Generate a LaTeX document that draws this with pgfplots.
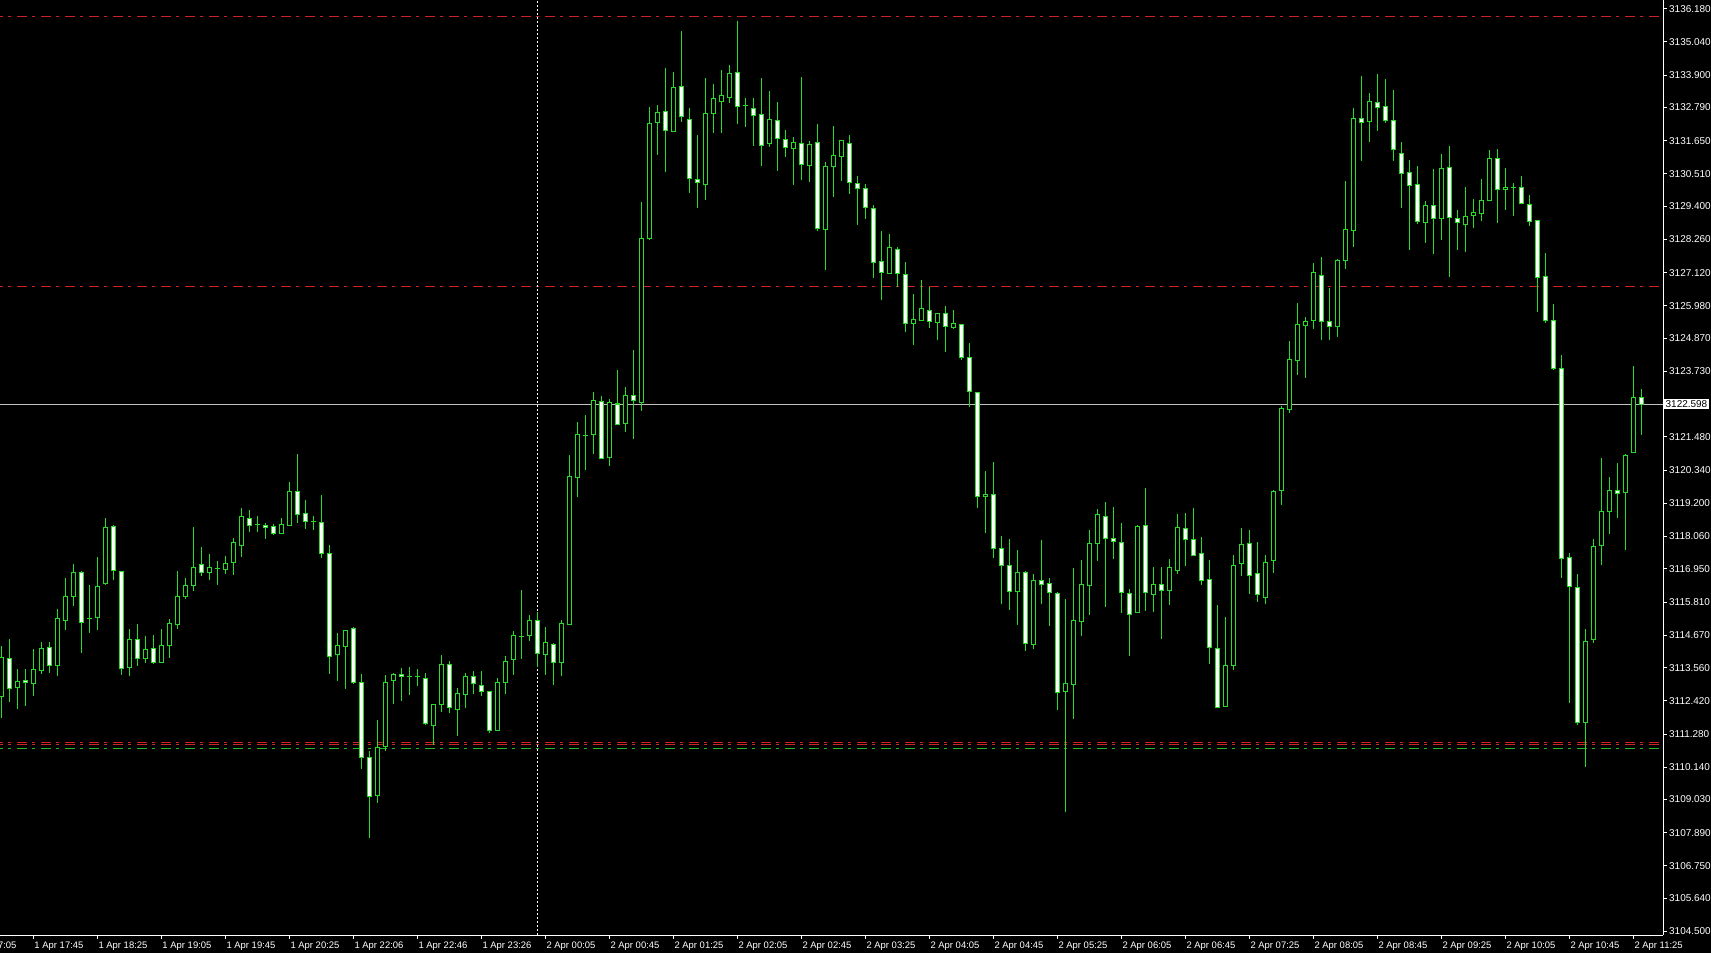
\documentclass[border=0pt]{standalone}
\usepackage{fontspec}
\setmainfont{Liberation Sans}
\usepackage{pgfplots}
\pgfplotsset{compat=1.18}
\usepackage{pgfplotstable}
\definecolor{cgreen}{RGB}{40,220,40}
\definecolor{lred}{RGB}{205,35,35}
\definecolor{lgreen}{RGB}{40,185,40}
\definecolor{bidgray}{RGB}{192,192,192}
\pgfplotstableread{
i o h l c
0 3112.57 3114.30 3111.84 3113.91
1 3113.88 3114.54 3112.38 3112.85
2 3112.88 3113.51 3112.13 3113.09
3 3113.12 3113.51 3112.23 3113.05
4 3113.02 3114.20 3112.57 3113.50
5 3113.47 3114.44 3113.34 3114.22
6 3114.26 3114.44 3113.39 3113.64
7 3113.64 3115.56 3113.28 3115.25
8 3115.18 3116.64 3114.86 3116.01
9 3116.01 3117.12 3115.69 3116.81
10 3116.83 3116.88 3114.07 3115.11
11 3115.23 3116.40 3114.76 3115.23
12 3115.27 3117.36 3114.86 3116.35
13 3116.44 3118.70 3116.41 3118.38
14 3118.41 3118.44 3116.58 3116.90
15 3116.87 3116.87 3113.32 3113.52
16 3113.57 3114.89 3113.28 3114.51
17 3114.53 3115.06 3113.63 3113.88
18 3113.87 3114.63 3113.73 3114.19
19 3114.22 3114.68 3113.70 3113.73
20 3113.73 3114.89 3113.73 3114.32
21 3114.31 3115.22 3113.90 3115.08
22 3115.03 3116.88 3114.90 3116.01
23 3116.00 3116.62 3115.93 3116.38
24 3116.38 3118.39 3116.20 3117.00
25 3117.11 3117.70 3116.72 3116.83
26 3116.82 3117.46 3116.58 3117.00
27 3116.95 3117.22 3116.41 3116.95
28 3116.92 3117.39 3116.79 3117.14
29 3117.16 3118.01 3116.75 3117.86
30 3117.75 3119.04 3117.37 3118.75
31 3118.68 3118.97 3118.23 3118.43
32 3118.47 3118.76 3118.23 3118.47
33 3118.44 3118.51 3117.99 3118.38
34 3118.41 3118.48 3118.11 3118.16
35 3118.16 3118.71 3118.16 3118.48
36 3118.43 3119.93 3118.43 3119.61
37 3119.61 3120.89 3118.54 3118.81
38 3118.86 3119.31 3118.33 3118.58
39 3118.57 3118.76 3118.28 3118.57
40 3118.55 3119.49 3117.33 3117.47
41 3117.48 3117.77 3113.35 3113.94
42 3114.00 3114.75 3113.11 3114.32
43 3114.29 3114.82 3112.84 3114.82
44 3114.91 3114.94 3113.01 3113.04
45 3113.05 3113.33 3110.07 3110.48
46 3110.48 3110.70 3107.72 3109.13
47 3109.16 3111.75 3108.92 3110.82
48 3110.86 3113.31 3110.69 3113.05
49 3113.11 3113.39 3112.32 3113.33
50 3113.33 3113.55 3112.43 3113.25
51 3113.24 3113.58 3112.63 3113.24
52 3113.25 3113.52 3112.92 3113.25
53 3113.19 3113.38 3111.60 3111.65
54 3111.57 3112.30 3110.91 3112.30
55 3112.29 3113.99 3112.05 3113.66
56 3113.66 3113.78 3111.99 3112.20
57 3112.13 3112.85 3111.21 3112.66
58 3112.64 3113.36 3112.19 3113.24
59 3113.25 3113.43 3112.64 3113.03
60 3112.96 3113.45 3112.57 3112.75
61 3112.75 3112.75 3111.33 3111.40
62 3111.40 3113.22 3111.40 3113.04
63 3113.04 3113.97 3112.64 3113.76
64 3113.83 3114.80 3113.32 3114.67
65 3114.64 3116.21 3113.87 3114.64
66 3114.66 3115.36 3114.48 3115.18
67 3115.18 3115.48 3113.57 3114.06
68 3114.01 3114.97 3113.32 3114.43
69 3114.36 3114.41 3112.97 3113.75
70 3113.75 3115.20 3113.27 3115.08
71 3115.04 3120.87 3115.01 3120.12
72 3120.09 3121.98 3119.40 3121.56
73 3121.52 3122.24 3120.33 3121.52
74 3121.56 3123.01 3120.91 3122.73
75 3122.68 3122.87 3120.75 3120.75
76 3120.77 3122.77 3120.47 3122.66
77 3122.61 3123.76 3121.89 3121.89
78 3121.94 3123.20 3121.66 3122.91
79 3122.91 3124.45 3121.40 3122.73
80 3122.66 3129.53 3122.38 3128.30
81 3128.30 3132.82 3128.23 3132.24
82 3132.28 3132.89 3131.17 3132.61
83 3132.65 3134.13 3130.57 3132.00
84 3131.96 3134.01 3131.96 3133.48
85 3133.52 3135.41 3132.30 3132.47
86 3132.38 3132.76 3129.86 3130.35
87 3130.31 3131.84 3129.35 3130.22
88 3130.14 3133.79 3129.62 3132.59
89 3132.58 3133.60 3131.92 3133.10
90 3132.99 3134.08 3131.92 3133.21
91 3133.13 3134.25 3132.95 3133.96
92 3134.00 3135.76 3132.23 3132.82
93 3132.86 3133.11 3132.13 3132.86
94 3132.75 3133.11 3131.48 3132.51
95 3132.55 3133.80 3130.79 3131.49
96 3131.55 3133.35 3131.44 3132.38
97 3132.35 3132.98 3130.62 3131.72
98 3131.70 3132.02 3131.10 3131.42
99 3131.38 3131.78 3130.14 3131.59
100 3131.56 3133.84 3130.31 3130.83
101 3130.79 3131.64 3130.24 3131.52
102 3131.59 3132.22 3128.56 3128.62
103 3128.61 3130.91 3127.22 3130.77
104 3130.76 3132.15 3129.73 3131.15
105 3131.10 3131.66 3130.28 3131.66
106 3131.56 3131.84 3129.83 3130.21
107 3130.19 3130.44 3128.77 3130.01
108 3130.01 3130.16 3128.97 3129.36
109 3129.33 3129.44 3126.95 3127.47
110 3127.49 3128.54 3126.17 3127.14
111 3127.09 3128.45 3127.07 3127.97
112 3127.91 3128.00 3126.64 3127.10
113 3127.04 3127.49 3125.09 3125.39
114 3125.39 3126.37 3124.63 3125.52
115 3125.48 3126.85 3125.48 3125.88
116 3125.83 3126.64 3125.21 3125.44
117 3125.42 3125.73 3124.79 3125.73
118 3125.73 3125.98 3124.38 3125.27
119 3125.23 3125.85 3125.17 3125.37
120 3125.35 3125.35 3124.13 3124.21
121 3124.22 3124.72 3122.52 3123.05
122 3123.02 3123.02 3119.04 3119.44
123 3119.44 3120.31 3118.18 3119.50
124 3119.50 3120.62 3117.33 3117.64
125 3117.64 3118.07 3115.73 3117.05
126 3117.05 3117.96 3115.54 3116.18
127 3116.16 3117.59 3115.02 3116.81
128 3116.81 3116.89 3114.13 3114.40
129 3114.36 3116.79 3114.19 3116.54
130 3116.54 3117.93 3115.73 3116.43
131 3116.46 3116.62 3114.98 3116.13
132 3116.09 3116.17 3112.12 3112.72
133 3112.74 3115.92 3108.59 3113.03
134 3112.98 3116.97 3111.78 3115.19
135 3115.15 3117.24 3114.64 3116.41
136 3116.37 3118.30 3115.37 3117.82
137 3117.82 3119.01 3117.22 3118.82
138 3118.74 3119.23 3115.65 3118.00
139 3118.00 3119.06 3117.30 3117.90
140 3117.86 3118.53 3115.45 3116.15
141 3116.11 3116.26 3113.97 3115.39
142 3115.45 3118.45 3115.42 3118.41
143 3118.43 3119.72 3115.52 3116.15
144 3116.08 3117.01 3115.48 3116.42
145 3116.42 3117.01 3114.55 3116.19
146 3116.20 3117.29 3115.72 3117.00
147 3116.89 3118.83 3116.79 3118.38
148 3118.33 3118.87 3117.06 3117.96
149 3117.96 3119.03 3117.42 3117.42
150 3117.47 3118.04 3116.39 3116.56
151 3116.58 3117.26 3113.70 3114.26
152 3114.22 3115.71 3112.20 3112.20
153 3112.22 3115.29 3112.20 3113.64
154 3113.63 3117.43 3113.47 3117.07
155 3117.14 3118.34 3116.72 3117.79
156 3117.83 3118.27 3116.08 3116.73
157 3116.80 3117.87 3115.82 3116.08
158 3115.97 3117.43 3115.73 3117.17
159 3117.24 3119.66 3116.82 3119.62
160 3119.65 3122.54 3119.15 3122.46
161 3122.43 3124.77 3122.31 3124.14
162 3124.11 3126.09 3123.62 3125.35
163 3125.31 3125.60 3123.51 3125.45
164 3125.47 3127.44 3125.20 3127.13
165 3127.03 3127.65 3124.81 3125.45
166 3125.44 3126.59 3124.81 3125.27
167 3125.27 3127.59 3124.92 3127.55
168 3127.53 3130.27 3127.26 3128.61
169 3128.56 3132.76 3128.01 3132.42
170 3132.41 3133.87 3130.96 3132.27
171 3132.30 3133.29 3131.62 3133.00
172 3132.97 3133.94 3131.99 3132.79
173 3132.83 3133.77 3132.25 3132.34
174 3132.35 3133.39 3130.96 3131.35
175 3131.22 3131.59 3129.35 3130.53
176 3130.56 3130.99 3127.91 3130.11
177 3130.15 3130.78 3128.80 3128.87
178 3128.84 3129.58 3128.15 3129.44
179 3129.44 3130.68 3127.77 3128.97
180 3128.97 3131.19 3128.25 3130.70
181 3130.73 3131.46 3126.98 3129.02
182 3128.98 3129.27 3127.91 3128.85
183 3128.78 3130.06 3127.84 3129.05
184 3129.08 3129.64 3128.66 3129.17
185 3129.14 3130.32 3128.89 3129.60
186 3129.59 3131.33 3129.59 3131.04
187 3131.03 3131.36 3128.84 3129.98
188 3129.98 3130.71 3129.28 3130.05
189 3130.05 3130.19 3129.08 3130.05
190 3130.05 3130.44 3129.50 3129.50
191 3129.46 3129.79 3128.71 3128.89
192 3128.92 3128.92 3125.76 3126.96
193 3127.00 3127.80 3125.38 3125.47
194 3125.49 3126.05 3123.77 3123.83
195 3123.82 3124.28 3116.62 3117.32
196 3117.35 3117.50 3112.35 3116.35
197 3116.31 3116.77 3111.59 3111.68
198 3111.68 3114.90 3110.15 3114.47
199 3114.51 3117.97 3114.40 3117.72
200 3117.75 3120.74 3117.07 3118.92
201 3118.91 3120.10 3118.16 3119.65
202 3119.65 3120.57 3118.70 3119.54
203 3119.57 3120.91 3117.61 3120.84
204 3120.94 3123.93 3120.94 3122.82
205 3122.82 3123.12 3121.55 3122.60
}\candles
\begin{document}
\begin{tikzpicture}
\fill[black] (0,0) rectangle (1711bp,953bp);
\useasboundingbox (0,0) rectangle (1711bp,953bp);
\begin{axis}[
  at={(0,18bp)}, anchor=south west,
  scale only axis, width=1663bp, height=935bp,
  xmin=-0.1625, xmax=207.7125, ymin=3104.38, ymax=3136.48,
  enlargelimits=false, clip=true,
  axis x line*=bottom, axis y line*=right,
  axis line style={white, line width=1bp},
  tick style={white, line width=1bp},
  major tick length=4bp, tick align=outside,
  xtick={4,12,...,204},
  xticklabels={1 Apr 17:45,1 Apr 18:25,1 Apr 19:05,1 Apr 19:45,1 Apr 20:25,1 Apr 22:06,1 Apr 22:46,1 Apr 23:26,2 Apr 00:05,2 Apr 00:45,2 Apr 01:25,2 Apr 02:05,2 Apr 02:45,2 Apr 03:25,2 Apr 04:05,2 Apr 04:45,2 Apr 05:25,2 Apr 06:05,2 Apr 06:45,2 Apr 07:25,2 Apr 08:05,2 Apr 08:45,2 Apr 09:25,2 Apr 10:05,2 Apr 10:45,2 Apr 11:25},
  xticklabel style={anchor=north west, inner sep=0pt, xshift=1bp, yshift=-3bp, text=white, font=\fontsize{9.5}{10}\selectfont},
  extra x ticks={0}, extra x tick labels={1 Apr 17:05},
  extra x tick style={major tick length=0pt, xticklabel style={xshift=-35bp, yshift=-4bp}},
  ytick={3136.180,3135.040,3133.900,3132.790,3131.650,3130.510,3129.400,3128.260,3127.120,3125.980,3124.870,3123.730,3121.480,3120.340,3119.200,3118.060,3116.950,3115.810,3114.670,3113.560,3112.420,3111.280,3110.140,3109.030,3107.890,3106.750,3105.640,3104.500},
  yticklabels={3136.180,3135.040,3133.900,3132.790,3131.650,3130.510,3129.400,3128.260,3127.120,3125.980,3124.870,3123.730,3121.480,3120.340,3119.200,3118.060,3116.950,3115.810,3114.670,3113.560,3112.420,3111.280,3110.140,3109.030,3107.890,3106.750,3105.640,3104.500},
  yticklabel style={anchor=west, inner sep=0pt, xshift=2bp, text=white, font=\fontsize{10}{10}\selectfont},
  extra y ticks={3122.598}, extra y tick labels={3122.598},
  extra y tick style={major tick length=0pt, yticklabel style={fill=white, text=black, inner sep=1.5bp, xshift=-1bp}},
]
% horizontal level lines
\addplot[lred, line width=1bp, dash pattern=on 10bp off 5bp on 3bp off 6bp] coordinates {(-1,3135.92) (209,3135.92)};
\addplot[lred, line width=1bp, dash pattern=on 10bp off 5bp on 3bp off 6bp] coordinates {(-1,3126.63) (209,3126.63)};
\addplot[lred, line width=1bp, dash pattern=on 10bp off 5bp on 3bp off 6bp] coordinates {(-1,3110.98) (209,3110.98)};
\addplot[lred, line width=1bp, dash pattern=on 10bp off 5bp on 3bp off 6bp] coordinates {(-1,3110.92) (209,3110.92)};
\addplot[lgreen, line width=1bp, dash pattern=on 10bp off 5bp on 3bp off 6bp] coordinates {(-1,3110.77) (209,3110.77)};
\addplot[bidgray, line width=1bp] coordinates {(-1,3122.598) (209,3122.598)};
% period separator
\addplot[white, line width=1bp, dash pattern=on 2bp off 2bp] coordinates {(67,3104.38) (67,3136.48)};
% wicks
\addplot[only marks, mark=*, mark size=0pt, mark options={draw=none,fill=none}, forget plot,
  error bars/.cd, y dir=plus, y explicit, error mark=none,
  error bar style={draw=cgreen, line width=1bp}]
  table[x=i, y=l, y error expr={\thisrow{h}-\thisrow{l}}] {\candles};
% body outlines
\addplot[only marks, mark=*, mark size=0pt, mark options={draw=none,fill=none}, forget plot,
  error bars/.cd, y dir=plus, y explicit, error mark=none,
  error bar style={draw=cgreen, line width=5bp}]
  table[x=i, y expr={min(\thisrow{o},\thisrow{c})-0.0172}, y error expr={abs(\thisrow{c}-\thisrow{o})+0.0343}] {\candles};
% bear fills (white)
\addplot[only marks, mark=*, mark size=0pt, mark options={draw=none,fill=none}, forget plot,
  error bars/.cd, y dir=plus, y explicit, error mark=none,
  error bar style={draw=white, line width=3bp}]
  table[x=i, y expr={min(\thisrow{o},\thisrow{c})+0.0172}, y error expr={ifthenelse(\thisrow{o}>\thisrow{c},1,0)*max(abs(\thisrow{c}-\thisrow{o})-0.0343,0)}] {\candles};
% bull fills (black)
\addplot[only marks, mark=*, mark size=0pt, mark options={draw=none,fill=none}, forget plot,
  error bars/.cd, y dir=plus, y explicit, error mark=none,
  error bar style={draw=black, line width=3bp}]
  table[x=i, y expr={min(\thisrow{o},\thisrow{c})+0.0172}, y error expr={ifthenelse(\thisrow{c}>\thisrow{o},1,0)*max(abs(\thisrow{c}-\thisrow{o})-0.0343,0)}] {\candles};
\end{axis}
\end{tikzpicture}
\end{document}
